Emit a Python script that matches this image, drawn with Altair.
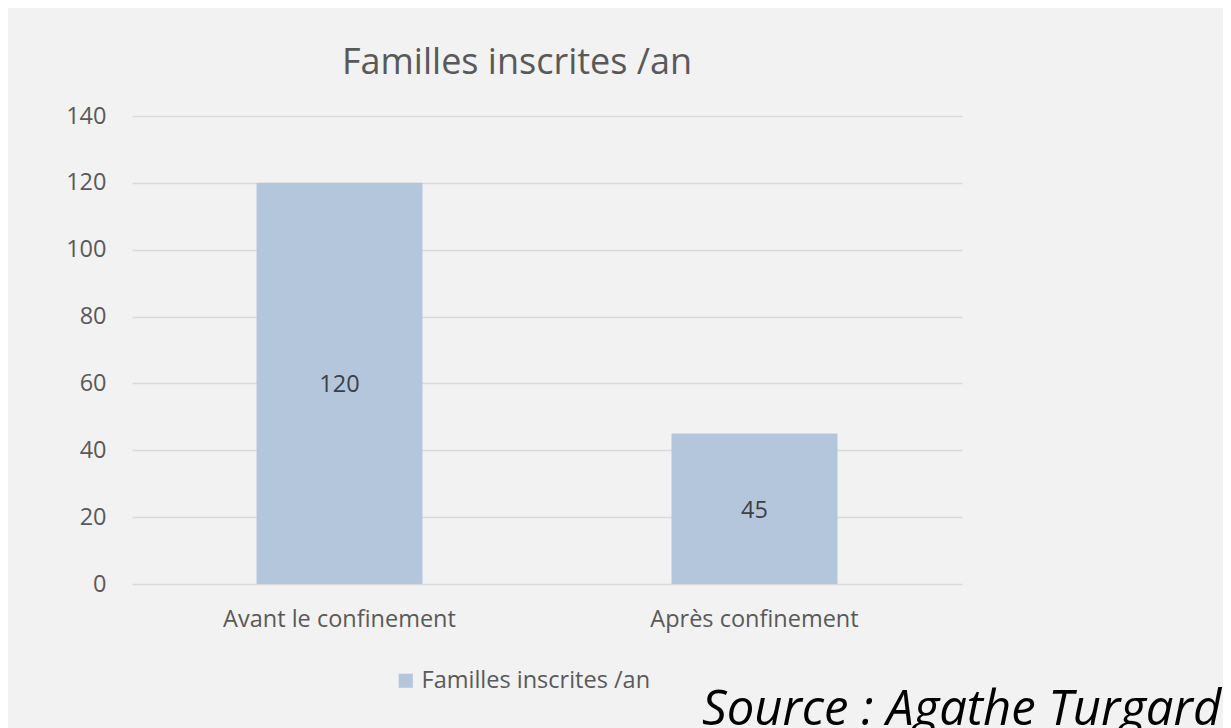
import altair as alt
import pandas as pd

categories = ["Avant le confinement", "Après confinement"]
values = [120, 45]
series_name = "Familles inscrites /an"
title_text = "Familles inscrites /an"
source_text = "Source : Agathe Turgard"
y_ticks = [0, 20, 40, 60, 80, 100, 120, 140]

df = pd.DataFrame({"cat": categories, "val": values, "serie": [series_name] * len(categories)})

FONT = "Open Sans"
BAR = "#b4c6dc"
FS = 23.5

base = alt.Chart(df)

bars = base.mark_bar(color=BAR).encode(
    x=alt.X("cat:N", sort=categories, title=None,
            scale=alt.Scale(paddingInner=0.6, paddingOuter=0.3),
            axis=alt.Axis(labelAngle=0, labelFontSize=FS, labelColor="#595959", labelLimit=1000,
                          labelFont=FONT, labelPadding=23, domain=False, ticks=False, grid=False)),
    y=alt.Y("val:Q", title=None,
            scale=alt.Scale(domain=[0, 140]),
            axis=alt.Axis(values=y_ticks, labelFontSize=FS, labelColor="#595959", labelFont=FONT,
                          labelPadding=26, domain=False, ticks=False, gridColor="#d9d9d9",
                          gridWidth=1.5)),
    color=alt.Color("serie:N", scale=alt.Scale(range=[BAR]),
                    legend=alt.Legend(title=None, orient="none", legendX=262, legendY=553,
                                      symbolType="square", symbolSize=200, symbolStrokeWidth=0,
                                      labelFontSize=FS, labelColor="#595959", labelFont=FONT,
                                      labelOffset=4, labelLimit=1000)),
)

labels = base.transform_calculate(mid="datum.val / 2").mark_text(
    font=FONT, fontSize=FS, color="#404040", baseline="middle", dy=2
).encode(
    x=alt.X("cat:N", sort=categories),
    y=alt.Y("mid:Q"),
    text=alt.Text("val:Q"),
)

title = alt.Chart(pd.DataFrame({"t": [title_text]})).mark_text(
    font=FONT, fontSize=36, color="#595959", align="center", baseline="alphabetic"
).encode(
    x=alt.value(385), y=alt.value(-42), text="t:N"
)

source = alt.Chart(pd.DataFrame({"t": [source_text]})).mark_text(
    font=FONT, fontSize=49, fontStyle="italic", color="#000000", align="left", baseline="alphabetic"
).encode(
    x=alt.value(570), y=alt.value(609), text="t:N"
)

chart = alt.layer(bars, labels, title, source).properties(
    width=830, height=468,
    padding={"left": 124, "top": 108, "right": 261, "bottom": 144},
    autosize=alt.AutoSizeParams(type="none"),
    background="#f2f2f2",
).configure_view(stroke=None)

chart.save("out.html", embed_options={"renderer": "svg", "actions": False})
